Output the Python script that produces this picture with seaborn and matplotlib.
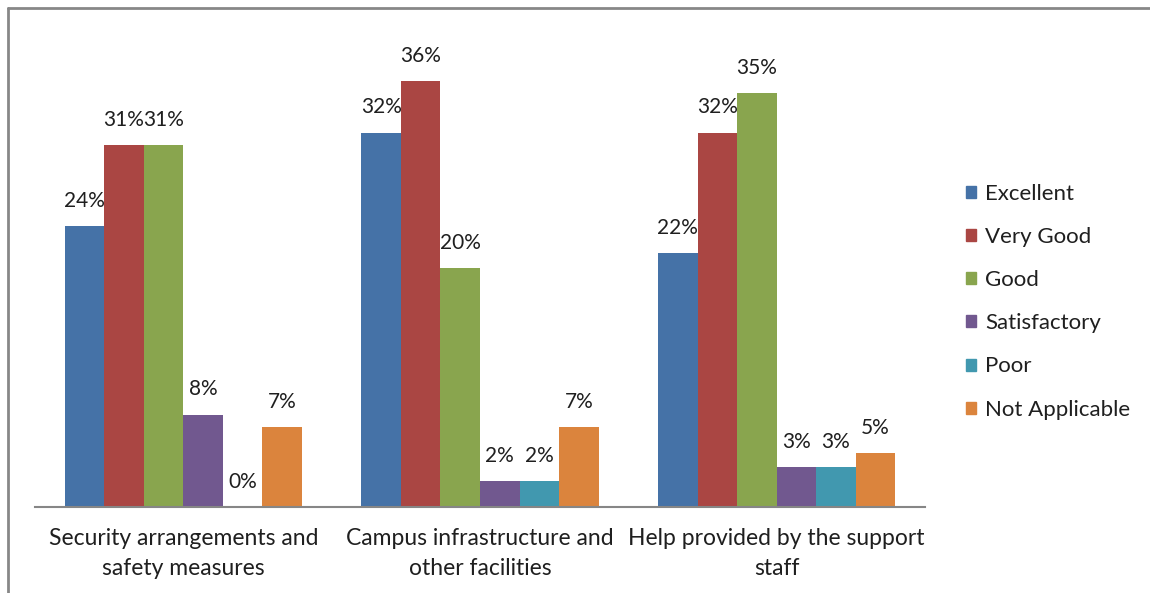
import pandas as pd
import matplotlib.pyplot as plt
import matplotlib.patches as mpatches
from matplotlib.lines import Line2D
import seaborn as sns

# categories and series values (percent)
categories = ["Security arrangements and\nsafety measures",
              "Campus infrastructure and\nother facilities",
              "Help provided by the support\nstaff"]
ratings = ["Excellent", "Very Good", "Good", "Satisfactory", "Poor", "Not Applicable"]
excellent = [24.0, 32.0, 21.7]
very_good = [30.9, 36.4, 32.0]
good = [30.9, 20.4, 35.4]
satisfactory = [7.9, 2.2, 3.4]
poor = [0.0, 2.2, 3.4]
not_applicable = [6.8, 6.8, 4.6]

colors = ["#4572A7", "#AA4643", "#89A54E", "#71588F", "#4198AF", "#DB843D"]

series = [excellent, very_good, good, satisfactory, poor, not_applicable]
rows = []
for rating, vals in zip(ratings, series):
    for cat, v in zip(categories, vals):
        rows.append({"category": cat, "rating": rating, "value": v})
df = pd.DataFrame(rows)

sns.set_style("white")
plt.rcParams["font.family"] = ["Lato", "DejaVu Sans"]
text_color = "#1f1f1f"
axis_color = "#868686"

fig = plt.figure(figsize=(11.5, 5.93), dpi=100)
ax = fig.add_axes([35 / 1150, 1 - 507 / 593, 890 / 1150, 468 / 593])

sns.barplot(data=df, x="category", y="value", hue="rating", order=categories,
            hue_order=ratings, palette=colors, width=0.8, saturation=1,
            edgecolor="none", linewidth=0, ax=ax)

# percentage labels above each bar
for cont in ax.containers:
    ax.bar_label(cont, labels=[f"{b.get_height():.0f}%" for b in cont],
                 padding=11, fontsize=15, color=text_color)

ax.set_ylim(0, 40)
ax.set_xlim(-0.5, 2.5)
ax.set_xlabel("")
ax.set_ylabel("")
ax.set_yticks([])
for side in ["top", "right", "left"]:
    ax.spines[side].set_visible(False)
ax.spines["bottom"].set_color(axis_color)
ax.spines["bottom"].set_linewidth(1.5)

ax.set_xticks([0, 1, 2])
ax.set_xticklabels(categories, fontsize=16.5, color=text_color, linespacing=1.55)
ax.tick_params(axis="x", which="major", length=0, pad=15)
ax.set_xticks([-0.5, 0.5, 1.5, 2.5], minor=True)
ax.tick_params(axis="x", which="minor", length=6, width=1.5, color=axis_color,
               direction="out")

handles = [mpatches.Patch(color=c, label=r) for c, r in zip(colors, ratings)]
ax.get_legend().remove()
fig.legend(handles=handles, loc="upper left", bbox_to_anchor=(946 / 1150, 1 - 164 / 593),
           frameon=False, fontsize=16, handlelength=0.45, handleheight=0.45,
           handletextpad=0.4, labelspacing=1.04, labelcolor=text_color)

# outer chart border: only top and left edges fall inside the image
border = dict(color="#878787", linewidth=2, transform=fig.transFigure)
fig.lines.append(Line2D([7.5 / 1150, 1.0], [1 - 7.5 / 593] * 2, **border))
fig.lines.append(Line2D([7.5 / 1150] * 2, [0.0, 1 - 7.5 / 593], **border))

fig.savefig("out.png", dpi=100)
